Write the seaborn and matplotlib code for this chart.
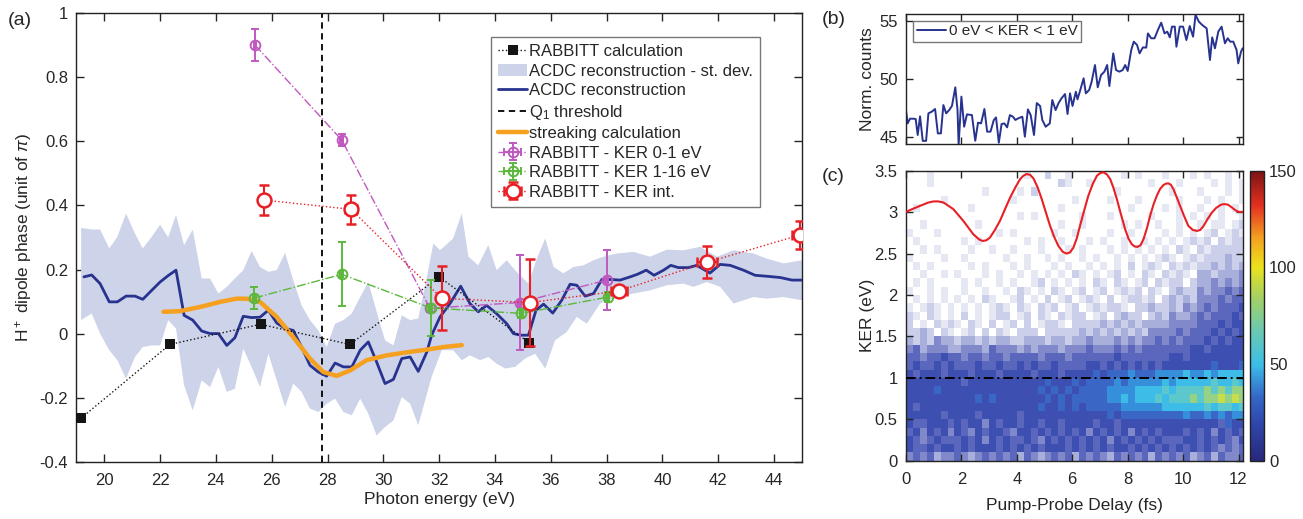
import numpy as np
import matplotlib
matplotlib.use("Agg")
import matplotlib.pyplot as plt
from matplotlib.colors import ListedColormap, BoundaryNorm, LinearSegmentedColormap, Normalize
from matplotlib.cm import ScalarMappable
import seaborn as sns

# =============================================================================
# 1. DATA
# =============================================================================
# (a) RABBITT calculation
calc_energy = [19.17, 22.35, 25.6, 28.8, 32.0, 35.23]
calc_phase = [-0.264, -0.034, 0.029, -0.034, 0.177, -0.029]

# (a) ACDC reconstruction
acdc_energy = [19.27, 19.55, 19.85, 20.18, 20.47, 20.78, 21.1, 21.38, 21.7, 22.0,
               22.29, 22.57, 22.86, 23.17, 23.49, 23.79, 24.09, 24.39, 24.68, 24.98,
               25.28, 25.58, 25.88, 26.18, 26.48, 26.77, 27.07, 27.37, 27.67, 27.97,
               28.27, 28.57, 28.87, 29.17, 29.46, 29.76, 30.06, 30.36, 30.66, 30.96,
               31.25, 31.56, 31.73, 32.03, 32.39, 32.77, 33.1, 33.4, 33.7, 34.06,
               34.42, 34.66, 34.92, 35.2, 35.47, 35.74, 36.07, 36.39, 36.69, 36.93,
               37.23, 37.53, 37.83, 38.13, 38.48, 38.84, 39.1, 39.42, 39.7, 40.04,
               40.3, 40.57, 40.93, 41.23, 41.7, 42.07, 42.43, 42.9, 43.32, 43.74,
               44.22, 44.64, 45.0]
acdc_phase = [0.177, 0.183, 0.156, 0.099, 0.099, 0.117, 0.117, 0.107, 0.135, 0.161,
              0.181, 0.198, 0.057, 0.042, 0.008, 0.0, 0.0, -0.037, -0.013, 0.054,
              0.05, 0.051, 0.073, 0.033, 0.016, 0.01, -0.042, -0.099, -0.12, -0.133,
              -0.092, -0.104, -0.104, -0.052, -0.026, -0.089, -0.156, -0.143, -0.078, -0.073,
              -0.118, -0.057, -0.005, 0.052, 0.094, 0.148, 0.094, 0.068, 0.088, 0.062,
              0.031, 0.0, -0.005, -0.005, 0.073, 0.092, 0.064, 0.104, 0.154, 0.151,
              0.117, 0.125, 0.169, 0.169, 0.167, 0.177, 0.185, 0.198, 0.182, 0.198,
              0.213, 0.206, 0.206, 0.213, 0.189, 0.216, 0.213, 0.198, 0.182, 0.179,
              0.175, 0.167, 0.167]

# (a) ACDC reconstruction - st. dev. band
band_up_energy = [19.17, 19.55, 19.85, 20.18, 20.47, 20.78, 21.1, 21.38, 21.7, 22.0,
                  22.29, 22.57, 22.86, 23.17, 23.49, 23.79, 24.09, 24.39, 24.68, 24.98,
                  25.28, 25.58, 25.88, 26.18, 26.48, 26.77, 27.07, 27.37, 27.67, 27.97,
                  28.27, 28.57, 28.87, 29.17, 29.46, 29.76, 30.06, 30.36, 30.66, 30.96,
                  31.25, 31.56, 31.79, 32.03, 32.5, 32.81, 33.05, 33.4, 33.76, 34.06,
                  34.42, 34.72, 35.2, 35.5, 35.8, 36.1, 36.45, 36.81, 37.17, 37.53,
                  37.88, 38.36, 38.96, 39.56, 40.16, 40.75, 41.35, 41.95, 42.55, 43.26,
                  43.74, 44.34, 45.0]
band_up = [0.33, 0.325, 0.325, 0.266, 0.302, 0.375, 0.312, 0.266, 0.302, 0.34,
           0.3, 0.37, 0.276, 0.325, 0.172, 0.172, 0.125, 0.146, 0.172, 0.198,
           0.258, 0.208, 0.193, 0.198, 0.252, 0.167, 0.088, 0.042, 0.01, -0.042,
           0.031, 0.042, 0.063, 0.114, 0.161, 0.068, -0.021, -0.037, 0.057, 0.042,
           0.047, 0.177, 0.281, 0.26, 0.297, 0.375, 0.24, 0.213, 0.276, 0.198,
           0.229, 0.198, 0.156, 0.234, 0.297, 0.208, 0.188, 0.208, 0.213, 0.229,
           0.24, 0.25, 0.255, 0.24, 0.262, 0.26, 0.271, 0.24, 0.26, 0.25,
           0.234, 0.219, 0.229]
band_lo_energy = [19.17, 19.55, 19.85, 20.18, 20.47, 20.78, 21.1, 21.38, 21.7, 22.0,
                  22.29, 22.57, 22.86, 23.17, 23.49, 23.79, 24.09, 24.39, 24.68, 24.98,
                  25.28, 25.58, 25.88, 26.18, 26.48, 26.77, 27.07, 27.37, 27.67, 27.97,
                  28.27, 28.57, 28.87, 29.17, 29.46, 29.76, 30.06, 30.36, 30.66, 30.96,
                  31.25, 31.73, 32.09, 32.5, 32.81, 33.1, 33.47, 33.76, 34.06, 34.36,
                  34.72, 35.08, 35.44, 35.8, 36.15, 36.57, 36.93, 37.29, 37.77, 38.36,
                  38.96, 39.56, 40.16, 40.75, 41.11, 41.59, 42.07, 42.55, 43.26, 43.74,
                  44.34, 45.0]
band_lo = [0.042, 0.063, 0.0, -0.052, -0.083, -0.141, -0.073, -0.042, -0.037, -0.037,
           0.042, 0.016, -0.161, -0.24, -0.146, -0.167, -0.104, -0.182, -0.172, -0.047,
           -0.104, -0.167, -0.063, -0.146, -0.229, -0.156, -0.182, -0.234, -0.245, -0.219,
           -0.203, -0.245, -0.255, -0.203, -0.25, -0.318, -0.292, -0.271, -0.198, -0.219,
           -0.286, -0.135, -0.052, -0.052, -0.083, -0.068, -0.083, -0.073, -0.094, -0.109,
           -0.104, -0.078, -0.063, -0.109, -0.021, 0.005, 0.052, 0.031, 0.094, 0.114,
           0.125, 0.135, 0.151, 0.156, 0.146, 0.161, 0.146, 0.094, 0.114, 0.109,
           0.114, 0.104]

# (a) streaking calculation
streak_energy = [22.12, 22.71, 23.43, 24.15, 24.74, 25.1, 25.58, 26.18, 26.77, 27.37,
                 27.85, 28.33, 28.81, 29.4, 30.12, 30.96, 31.56, 32.15, 32.81]
streak_phase = [0.068, 0.07, 0.083, 0.099, 0.109, 0.109, 0.099, 0.052, -0.011, -0.078,
                -0.12, -0.132, -0.115, -0.083, -0.068, -0.057, -0.05, -0.042, -0.036]

# (a) Q1 threshold
q1_energy = 27.8

# (a) RABBITT - KER 0-1 eV
ker01_energy = [25.4, 28.51, 31.67, 34.88, 38.0]
ker01_phase = [0.901, 0.604, 0.079, 0.097, 0.167]
ker01_err = [0.05, 0.018, 0.012, 0.148, 0.093]

# (a) RABBITT - KER 1-16 eV
ker116_energy = [25.38, 28.51, 31.7, 34.94, 38.04]
ker116_phase = [0.111, 0.185, 0.08, 0.063, 0.114]
ker116_err = [0.033, 0.1, 0.086, 0.015, 0.015]

# (a) RABBITT - KER int.
kerint_energy = [25.71, 28.84, 32.09, 35.26, 38.44, 41.61, 44.94]
kerint_phase = [0.417, 0.388, 0.11, 0.097, 0.133, 0.223, 0.308]
kerint_err = [0.047, 0.045, 0.1, 0.135, 0.012, 0.05, 0.045]
kerint_xerr = [0.08, 0.22, 0.15, 0.1, 0.28, 0.36, 0.3]

# (b) normalised counts, 0 eV < KER < 1 eV
b_delay = [0.0, 0.06, 0.145, 0.266, 0.35, 0.423, 0.508, 0.605, 0.726, 0.81,
           0.93, 1.05, 1.15, 1.26, 1.35, 1.45, 1.56, 1.66, 1.78, 1.86,
           1.9, 2.0, 2.1, 2.2, 2.38, 2.5, 2.6, 2.71, 2.83, 2.93,
           3.05, 3.17, 3.25, 3.35, 3.45, 3.55, 3.65, 3.75, 3.86, 3.95,
           4.05, 4.2, 4.29, 4.4, 4.5, 4.62, 4.72, 4.84, 4.92, 5.04,
           5.19, 5.28, 5.4, 5.5, 5.61, 5.74, 5.83, 5.92, 6.01, 6.13,
           6.19, 6.29, 6.41, 6.49, 6.61, 6.7, 6.82, 6.92, 7.04, 7.16,
           7.26, 7.34, 7.48, 7.58, 7.7, 7.82, 7.91, 8.0, 8.13, 8.22,
           8.34, 8.43, 8.55, 8.67, 8.73, 8.85, 8.97, 9.09, 9.21, 9.33,
           9.43, 9.52, 9.6, 9.7, 9.76, 9.88, 10.0, 10.12, 10.24, 10.36,
           10.45, 10.57, 10.69, 10.85, 10.97, 11.05, 11.15, 11.27, 11.39, 11.51,
           11.61, 11.7, 11.81, 11.93, 11.99, 12.09, 12.15]
b_counts = [47.34, 46.2, 46.6, 46.6, 46.57, 45.2, 46.8, 44.7, 44.7, 47.06,
            47.2, 47.43, 45.34, 45.34, 47.77, 47.06, 47.34, 47.7, 49.29, 47.34,
            44.34, 48.49, 45.91, 46.97, 46.91, 44.71, 46.26, 46.2, 47.43, 45.49,
            45.49, 46.49, 46.71, 44.54, 46.14, 46.2, 45.86, 46.91, 46.77, 46.49,
            46.63, 46.77, 45.06, 47.4, 46.91, 45.2, 47.94, 47.69, 46.49, 45.91,
            46.2, 48.2, 47.34, 47.91, 48.34, 48.71, 47.0, 48.77, 47.69, 48.91,
            48.26, 49.06, 50.06, 48.77, 49.06, 49.77, 51.2, 49.29, 50.34, 50.63,
            51.2, 49.4, 52.2, 50.77, 50.63, 50.77, 51.2, 50.69, 52.49, 53.2,
            52.91, 52.2, 52.71, 52.69, 53.91, 53.49, 53.49, 54.2, 54.83, 53.91,
            54.06, 53.57, 54.49, 54.49, 52.77, 54.49, 54.49, 53.34, 54.54, 53.63,
            55.49, 54.91, 54.63, 54.34, 51.63, 53.57, 52.63, 54.06, 54.49, 53.06,
            53.49, 53.2, 53.2, 52.49, 51.34, 52.34, 52.63]

# (c) red streaking trace
c_delay = [0.0, 0.25, 0.51, 0.8, 0.99, 1.15, 1.35, 1.71, 2.07, 2.43,
           2.65, 2.77, 2.9, 3.03, 3.2, 3.39, 3.58, 3.76, 3.95, 4.12,
           4.24, 4.36, 4.48, 4.6, 4.75, 4.9, 5.05, 5.2, 5.35, 5.5,
           5.66, 5.8, 5.92, 6.04, 6.16, 6.28, 6.43, 6.58, 6.74, 6.89,
           7.01, 7.13, 7.25, 7.37, 7.49, 7.61, 7.76, 7.91, 8.03, 8.15,
           8.25, 8.35, 8.46, 8.57, 8.69, 8.81, 8.93, 9.05, 9.17, 9.29,
           9.38, 9.47, 9.56, 9.65, 9.77, 9.89, 10.04, 10.19, 10.35, 10.5,
           10.62, 10.74, 10.89, 11.04, 11.19, 11.34, 11.43, 11.52, 11.62, 11.76,
           11.88, 12.0, 12.16]
c_trace = [3.003, 3.04, 3.076, 3.115, 3.129, 3.13, 3.117, 3.036, 2.894, 2.733,
           2.668, 2.652, 2.66, 2.693, 2.78, 2.894, 3.04, 3.177, 3.3, 3.399,
           3.44, 3.46, 3.45, 3.407, 3.3, 3.157, 2.995, 2.834, 2.7, 2.592,
           2.52, 2.499, 2.515, 2.571, 2.68, 2.834, 3.02, 3.197, 3.34, 3.439,
           3.472, 3.48, 3.455, 3.399, 3.29, 3.157, 2.97, 2.793, 2.68, 2.612,
           2.586, 2.58, 2.6, 2.672, 2.8, 2.955, 3.09, 3.197, 3.28, 3.326,
           3.344, 3.347, 3.33, 3.278, 3.18, 3.076, 2.95, 2.834, 2.785, 2.773,
           2.785, 2.834, 2.92, 2.995, 3.05, 3.084, 3.095, 3.096, 3.09, 3.056,
           3.025, 3.003, 3.003]

# (c) KER vs delay histogram, coded by count level (0.25 fs x 0.1 eV bins),
# rows from KER 3.4-3.5 eV (top) down to 0.0-0.1 eV (bottom)
ker_rows = [
    "...1... ....... ...1..2 ..1.... ...1.1. ..1...1 .1..1..",
    "...1... ....... ....... .21..1. ....... 1...1.. ..1.1.1",
    "....... ....1.. ..1.2.. ....... ..1.... ...1... 1...1.1",
    ".....1. ....... .1..... ...1... .1...1. ....1.. .1.1..1",
    ".1..... ..1.... ....... .1..... ....1.. ..1.1.. 1..1.1.",
    "....... ....... ..1.1.. ....1.. .1..... 1...1.1 .1.1..1",
    "..1.... ...1... ....... .1..1.. ...1.1. .1..1.. 1.11.12",
    "1...1.. ......1 .1..... 1..1... .1..1.. ..1.1.1 .12.121",
    ".1..... .1.1... ...1.1. .1...1. 1..1..1 .1.1.12 12.2122",
    "..1.1.. ..1..1. .1...1. ..1.1.. .1.1.1. 1.1.21. 2122222",
    "1....1. .1..... 1..1..1 .1..1.1 ..1.1.1 .121.12 1222322",
    ".1.1... ..1.1.. .1.1... 1.1..1. 1.1.2.1 21.2121 2232323",
    "..1..1. 1...1.1 ..1.1.1 .1.21.1 .12.1.2 1.2121. 3323334",
    ".1.1... .1.1..1 .1..12. 1.1.1.2 1.21.12 .2122.2 3343434",
    "1..1.1. .1..1.. 1.21.1. 21.12.1 2.1212. 21.2322 4344545",
    ".1.1.1. 1.1.21. .12.1.2 .12.121 .2.1221 2.23232 4445455",
    "1.121.1 .1.1.12 1.21.21 2.12.12 1221.22 3223243 4545556",
    "21.21.1 .2.1.12 2.12.21 .2122.1 2.2322. 2324334 5455565",
    "2.1.212 1.21.2. 12.2.12 21.2222 3232323 3334444 5556566",
    "2232.21 .12.2.2 1.222.2 2222323 2323232 4444545 5565656",
    "3232433 2332323 3223332 3323343 3343434 4545455 5656566",
    "4534443 3444354 4434344 4344454 4454545 5555556 6566666",
    "5545565 5455455 4555545 5545555 5565555 5556656 6666666",
    "5655656 5556556 5565655 6555566 5656565 6566666 6676667",
    "6566656 6656665 6666566 6566667 6777877 7888898 8989999",
    "6666666 6566666 6666667 6667677 7787888 8898999 99a99a9",
    "6666766 6666666 6666676 7676777 7888899 99a9aaa abababb",
    "6666666 6667676 6666667 6767777 7889899 9a9aaab abbcbcb",
    "6566666 6666666 6666676 6767677 7778888 8899999 9a9aa9a",
    "6666656 6665666 6656666 6666666 6767777 7777787 7878788",
    "6556665 6566465 6656656 6566665 6656666 6666666 6665766",
    "5646564 6546566 5466565 6565646 5656465 6566656 5646565",
    "6545655 5656465 6556546 5656565 6465656 5655566 5656546",
    "6556566 5656665 6565656 6656565 6566565 6565656 5654545",
    "4545344 5434545 4535434 5453545 4354545 3545453 4535445",
]
ker_ref = 1.0

# =============================================================================
# 2. STYLE
# =============================================================================
sns.set_style("ticks")
plt.rcParams['font.family'] = ['Liberation Sans', 'DejaVu Sans']
plt.rcParams['mathtext.fontset'] = 'custom'
plt.rcParams['mathtext.rm'] = 'Liberation Sans'
plt.rcParams['mathtext.it'] = 'Liberation Sans:italic'
plt.rcParams['xtick.direction'] = 'in'
plt.rcParams['ytick.direction'] = 'in'
plt.rcParams['axes.linewidth'] = 1.0
plt.rcParams['axes.edgecolor'] = '#222222'

TICK_SIZE = 12
LABEL_SIZE = 12.5
LEGEND_SIZE = 12

NAVY = '#27338f'
BAND = '#cdd3e8'
ORANGE = '#f6a020'
MAGENTA = '#c058c0'
GREEN = '#5cb83c'
RED = '#e82025'

fig = plt.figure(figsize=(13.03, 5.19), dpi=100)
ax_a = fig.add_axes([0.0586, 0.1104, 0.5569, 0.864])
ax_b = fig.add_axes([0.6953, 0.7225, 0.2584, 0.2505])
ax_c = fig.add_axes([0.6953, 0.1123, 0.2584, 0.5588])
ax_cb = fig.add_axes([0.9593, 0.1123, 0.011, 0.5588])

# =============================================================================
# 3. PANEL (a)
# =============================================================================
band_patch = ax_a.fill(np.r_[band_up_energy, band_lo_energy[::-1]],
                       np.r_[band_up, band_lo[::-1]],
                       color=BAND, lw=0, zorder=1)[0]
q1_line = ax_a.axvline(q1_energy, color='k', ls=(0, (3.5, 2.5)), lw=1.3, zorder=2)

sns.lineplot(x=acdc_energy, y=acdc_phase, ax=ax_a, color=NAVY, lw=2.0,
             sort=False, estimator=None, zorder=3)
acdc_line = ax_a.get_lines()[-1]
sns.lineplot(x=streak_energy, y=streak_phase, ax=ax_a, color=ORANGE, lw=3.2,
             sort=False, estimator=None, zorder=4)
streak_line = ax_a.get_lines()[-1]
sns.lineplot(x=calc_energy, y=calc_phase, ax=ax_a, color='#151515', lw=1.0,
             linestyle=':', marker='s', markersize=7.5, markeredgewidth=0,
             sort=False, estimator=None, zorder=5)
calc_line = ax_a.get_lines()[-1]

eb01 = ax_a.errorbar(ker01_energy, ker01_phase, yerr=ker01_err, xerr=0.05,
                     fmt='o', ls='-.', lw=1.0, color=MAGENTA, mfc='none', mec=MAGENTA,
                     ms=7, mew=1.4, capsize=3, elinewidth=1.4, zorder=6)
eb116 = ax_a.errorbar(ker116_energy, ker116_phase, yerr=ker116_err, xerr=0.05,
                      fmt='o', ls='-.', lw=1.0, color=GREEN, mfc='none', mec=GREEN,
                      ms=7, mew=1.4, capsize=3, elinewidth=1.4, zorder=7)
ebint = ax_a.errorbar(kerint_energy, kerint_phase, yerr=kerint_err, xerr=kerint_xerr,
                      fmt='o', ls=':', lw=1.0, color=RED, mfc='white', mec=RED,
                      ms=10, mew=1.8, capsize=3.5, elinewidth=1.5, zorder=8)

ax_a.set_xlim(19, 45)
ax_a.set_ylim(-0.4, 1.0)
ax_a.set_xticks(np.arange(20, 45, 2))
ax_a.set_yticks(np.arange(-0.4, 1.01, 0.2))
ax_a.set_yticklabels(['-0.4', '-0.2', '0', '0.2', '0.4', '0.6', '0.8', '1'])
ax_a.tick_params(top=True, right=True, labelsize=TICK_SIZE, length=6, width=1)
ax_a.tick_params(axis='x', pad=8)
ax_a.tick_params(axis='y', pad=6)
ax_a.set_xlabel('Photon energy (eV)', fontsize=LABEL_SIZE, labelpad=3)
ax_a.set_ylabel(r'H$^+$ dipole phase (unit of $\pi$)', fontsize=LABEL_SIZE, labelpad=4)

leg = ax_a.legend(
    [calc_line, band_patch, acdc_line, q1_line, streak_line, eb01, eb116, ebint],
    ['RABBITT calculation', 'ACDC reconstruction - st. dev.', 'ACDC reconstruction',
     r'Q$_1$ threshold', 'streaking calculation', 'RABBITT - KER 0-1 eV',
     'RABBITT - KER 1-16 eV', 'RABBITT - KER int.'],
    loc='upper left', bbox_to_anchor=(0.572, 0.947), borderaxespad=0,
    fontsize=LEGEND_SIZE, fancybox=False, framealpha=1, edgecolor='#777777',
    handlelength=1.7, handletextpad=0.15, labelspacing=0.27, borderpad=0.42)
leg.get_frame().set_linewidth(1.0)

# =============================================================================
# 4. PANEL (b)
# =============================================================================
sns.lineplot(x=b_delay, y=b_counts, ax=ax_b, color=NAVY, lw=1.4,
             sort=False, estimator=None, label='0 eV < KER < 1 eV')
ax_b.set_xlim(0, 12.15)
ax_b.set_ylim(44.43, 55.57)
ax_b.set_xticks(np.arange(0, 13, 2))
ax_b.set_xticklabels([])
ax_b.set_yticks([45, 50, 55])
ax_b.tick_params(top=True, right=True, labelsize=TICK_SIZE, length=5, width=1)
ax_b.tick_params(axis='y', pad=6)
ax_b.set_ylabel('Norm. counts', fontsize=LABEL_SIZE, labelpad=3)
leg_b = ax_b.legend(loc='upper left', bbox_to_anchor=(0.02, 0.95), borderaxespad=0,
                    fontsize=11, fancybox=False, framealpha=1,
                    edgecolor='#777777', handlelength=1.9, handletextpad=0.2,
                    borderpad=0.25)
leg_b.get_frame().set_linewidth(1.0)

# =============================================================================
# 5. PANEL (c)
# =============================================================================
level_codes = '.123456789abc'
level_colors = ['#ffffff', '#e5e7f3', '#cbcfe9', '#a9afdb', '#8189ca', '#5b67bc',
                '#3d50b1', '#3a66c6', '#358fda', '#3cbce7', '#5dc8cc', '#95d283',
                '#c8dc4c']
grid = np.array([[level_codes.index(ch) for ch in row.replace(' ', '')]
                 for row in ker_rows[::-1]])
delay_edges = np.linspace(0, 12.25, grid.shape[1] + 1)
ker_edges = np.linspace(0, 3.5, grid.shape[0] + 1)
ax_c.pcolormesh(delay_edges, ker_edges, grid, cmap=ListedColormap(level_colors),
                norm=BoundaryNorm(np.arange(-0.5, len(level_colors)), len(level_colors)),
                shading='flat', zorder=1)
ax_c.axhline(ker_ref, color='k', ls=(0, (5, 2, 1, 2)), lw=1.4, zorder=3)
sns.lineplot(x=c_delay, y=c_trace, ax=ax_c, color=RED, lw=1.5,
             sort=False, estimator=None, zorder=4)
ax_c.set_xlim(0, 12.15)
ax_c.set_ylim(0, 3.5)
ax_c.set_xticks(np.arange(0, 13, 2))
ax_c.set_yticks(np.arange(0, 3.51, 0.5))
ax_c.set_yticklabels(['0', '0.5', '1', '1.5', '2', '2.5', '3', '3.5'])
ax_c.tick_params(top=True, right=True, labelsize=TICK_SIZE, length=5, width=1)
ax_c.tick_params(axis='x', pad=8)
ax_c.tick_params(axis='y', pad=6)
ax_c.set_xlabel('Pump-Probe Delay (fs)', fontsize=LABEL_SIZE, labelpad=8)
ax_c.set_ylabel('KER (eV)', fontsize=LABEL_SIZE, labelpad=0)
ax_c.set_axisbelow(False)

cb_cmap = LinearSegmentedColormap.from_list('cb', [
    (0.0, '#27287c'), (0.12, '#2f45a8'), (0.22, '#3468c8'), (0.33, '#3cbde8'),
    (0.45, '#6cc9b0'), (0.56, '#a2d066'), (0.67, '#ece21a'), (0.77, '#f4a020'),
    (0.88, '#e43020'), (1.0, '#7c1414')])
cb = fig.colorbar(ScalarMappable(norm=Normalize(0, 150), cmap=cb_cmap), cax=ax_cb)
cb.set_ticks([0, 50, 100, 150])
cb.ax.tick_params(labelsize=TICK_SIZE, direction='in', length=4)
cb.outline.set_linewidth(1.0)

# panel letters
fig.text(0.006, 0.96, '(a)', fontsize=14, va='center')
fig.text(0.631, 0.962, '(b)', fontsize=14, va='center')
fig.text(0.631, 0.66, '(c)', fontsize=14, va='center')

fig.savefig('out.png', dpi=100)
